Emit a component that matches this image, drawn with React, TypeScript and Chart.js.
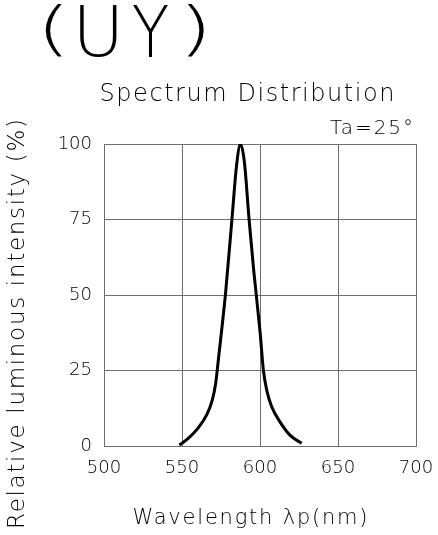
import React, { useEffect, useRef } from "react";
import { Chart, registerables } from "chart.js";

Chart.register(...registerables);

const wavelengths = [548.3, 554, 560.4, 565.8, 569.4, 571.6, 573.3, 578, 582, 585, 587.5, 590, 593, 596, 600, 602.2, 604.3, 607.5, 612.8, 619.2, 626.7];
const intensity = [0.3, 2.5, 6, 10.3, 15.2, 20.8, 28.5, 51, 75, 93, 100, 94, 75, 58, 38, 25, 18.5, 13, 8, 3.6, 0.9];
const xTicks = [500, 550, 600, 650, 700];
const yTicks = [0, 25, 50, 75, 100];

const FONT = "'DejaVu Sans'";

function fitText(ctx: CanvasRenderingContext2D, text: string, x: number, y: number, size: number, width: number, align: "left" | "center" | "right") {
  ctx.save();
  ctx.font = `200 ${size}px ${FONT}`;
  (ctx as any).letterSpacing = "0px";
  const w = ctx.measureText(text).width;
  const n = Math.max(text.length - 1, 1);
  const sp = (width - w) / n;
  (ctx as any).letterSpacing = `${sp}px`;
  ctx.textAlign = "left";
  ctx.textBaseline = "middle";
  ctx.fillStyle = "#000";
  let sx = x;
  if (align === "center") sx = x - width / 2;
  else if (align === "right") sx = x - width;
  ctx.fillText(text, sx, y);
  ctx.restore();
}

// draw a single glyph stretched into a box
function boxGlyph(ctx: CanvasRenderingContext2D, ch: string, x0: number, x1: number, y0: number, y1: number) {
  ctx.save();
  ctx.font = `200 100px ${FONT}`;
  ctx.textAlign = "left";
  ctx.textBaseline = "alphabetic";
  const m = ctx.measureText(ch);
  const gl = -m.actualBoundingBoxLeft;
  const gw = m.actualBoundingBoxRight + m.actualBoundingBoxLeft;
  const gt = -m.actualBoundingBoxAscent;
  const gh = m.actualBoundingBoxAscent + m.actualBoundingBoxDescent;
  const sx = (x1 - x0) / gw;
  const sy = (y1 - y0) / gh;
  ctx.translate(x0, y0);
  ctx.scale(sx, sy);
  ctx.fillStyle = "#000";
  ctx.fillText(ch, -gl, -gt);
  ctx.restore();
}

const textPlugin = {
  id: "texts",
  afterDraw(chart: any) {
    const ctx = chart.ctx as CanvasRenderingContext2D;
    boxGlyph(ctx, "(", 45, 62, 5, 57);
    boxGlyph(ctx, "U", 80, 117, 5, 57);
    boxGlyph(ctx, "Y", 133, 168, 5, 57);
    boxGlyph(ctx, ")", 187, 204, 5, 57);
    fitText(ctx, "Spectrum Distribution", 247, 95, 24, 295, "center");
    fitText(ctx, "Ta=25°", 413, 129, 20, 83, "right");
    fitText(ctx, "Wavelength λp(nm)", 250, 519, 21, 235, "center");
    ctx.save();
    ctx.translate(18, 324);
    ctx.rotate(-Math.PI / 2);
    fitText(ctx, "Relative luminous intensity (%)", 0, 0, 23, 410, "center");
    ctx.restore();
  },
};

export default function App() {
  const ref = useRef<HTMLCanvasElement>(null);
  useEffect(() => {
    if (!ref.current) return;
    const chart = new Chart(ref.current, {
      type: "line",
      data: {
        datasets: [
          {
            data: wavelengths.map((w, i) => ({ x: w, y: intensity[i] })),
            borderColor: "#000",
            borderWidth: 3,
            pointRadius: 0,
            cubicInterpolationMode: "monotone",
            fill: false,
          },
        ],
      },
      options: {
        animation: false,
        responsive: false,
        layout: { padding: { top: 144, left: 44, right: 22, bottom: 0 } },
        plugins: { legend: { display: false }, tooltip: { enabled: false }, title: { display: false } },
        scales: {
          x: {
            type: "linear",
            min: 500,
            max: 700,
            afterBuildTicks: (s: any) => { s.ticks = xTicks.map((v) => ({ value: v })); },
            afterFit: (s: any) => { s.height = 89; s.paddingLeft = 0; s.paddingRight = 0; },
            grid: { color: "#6e6e6e", drawTicks: false, lineWidth: 1 },
            border: { color: "#6e6e6e" },
            ticks: { padding: 12, color: "#000", font: { family: FONT, size: 18, weight: "200" as any } },
          },
          y: {
            min: 0,
            max: 100,
            afterBuildTicks: (s: any) => { s.ticks = yTicks.map((v) => ({ value: v })); },
            afterFit: (s: any) => { s.width = 60; s.paddingTop = 0; s.paddingBottom = 0; },
            grid: { color: "#6e6e6e", drawTicks: false, lineWidth: 1 },
            border: { color: "#6e6e6e" },
            ticks: { padding: 12, color: "#000", font: { family: FONT, size: 18, weight: "200" as any } },
          },
        },
      },
      plugins: [textPlugin],
    });
    return () => chart.destroy();
  }, []);
  return (
    <div style={{ position: "absolute", left: 0, top: 0, width: 438, height: 535, background: "#fff" }}>
      <canvas ref={ref} width={438} height={535} style={{ display: "block" }} />
    </div>
  );
}
